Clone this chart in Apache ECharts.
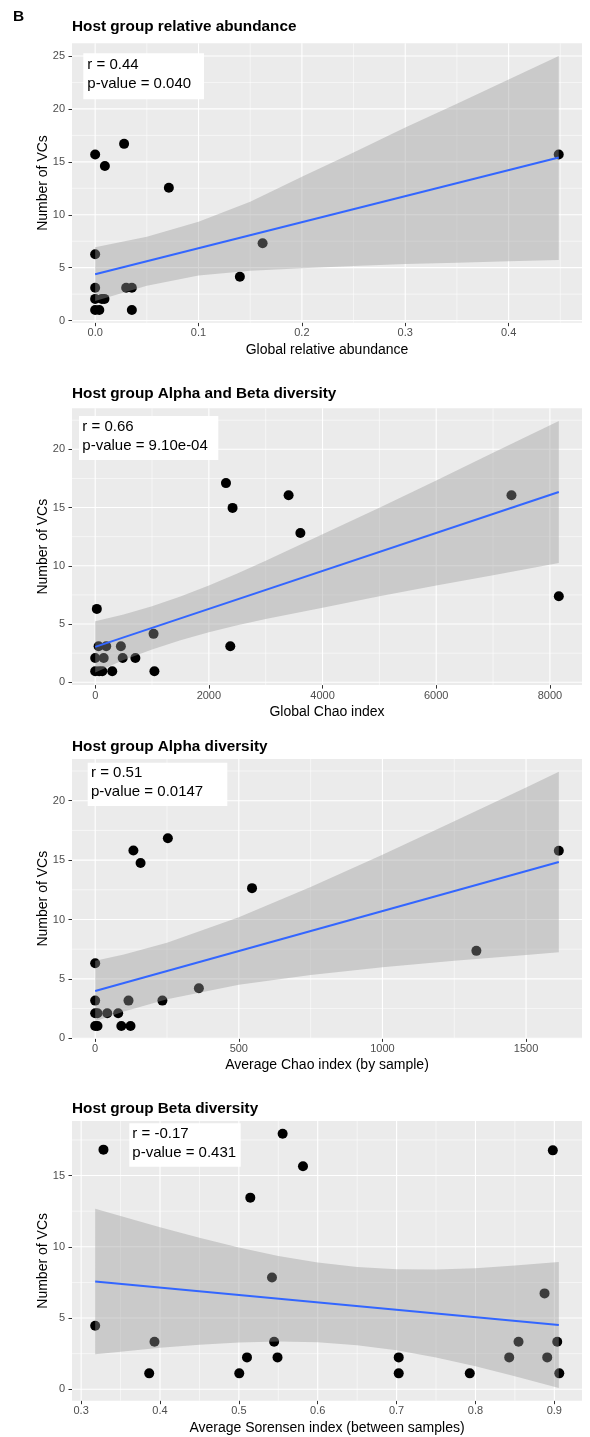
<!DOCTYPE html>
<html>
<head>
<meta charset="utf-8">
<script src="https://cdn.jsdelivr.net/npm/echarts@6/dist/echarts.min.js"></script>
<style>
html, body { margin: 0; padding: 0; background: #fff; }
#main { width: 590px; height: 1437px; }
</style>
</head>
<body>
<div id="main"></div>
<script>
// panel 1 - relative abundance
var p1X = [0, 0.028, 0.0094, 0.0713, 0, 0.162, 0.140, 0, 0.030, 0.0355, 0, 0.0065, 0.009, 0, 0.004, 0.0355, 0.4485];
var p1Y = [15.7, 16.7, 14.6, 12.55, 6.26, 7.3, 4.15, 3.1, 3.1, 3.1, 2.05, 2.05, 2.05, 1.0, 1.0, 1.0, 15.7];
var p1FitX = [0, 0.4485];
var p1FitY = [4.38, 15.41];
var p1BandX = [0, 0.05, 0.1, 0.15, 0.2, 0.25, 0.3, 0.35, 0.4, 0.4485];
var p1BandHi = [6.92, 7.92, 9.34, 11.23, 13.58, 15.89, 18.24, 20.49, 22.79, 25.0];
var p1BandLo = [1.85, 3.3, 4.25, 4.7, 4.95, 5.15, 5.35, 5.47, 5.6, 5.73];
var p1XTicks = [0, 0.1, 0.2, 0.3, 0.4];
var p1XMinor = [0.05, 0.15, 0.25, 0.35, 0.45];
var p1YTicks = [0, 5, 10, 15, 20, 25];
var p1YMinor = [2.5, 7.5, 12.5, 17.5, 22.5];

// panel 2 - global chao
var p2X = [2301, 2417, 3403, 3610, 29, 7324, 8157, 1027, 2377, 60, 194, 452, 0, 150, 484, 707, 0, 70, 125, 300, 1042];
var p2Y = [17.1, 14.97, 16.05, 12.81, 6.3, 16.05, 7.38, 4.16, 3.09, 3.09, 3.09, 3.09, 2.08, 2.08, 2.08, 2.08, 0.95, 0.95, 0.95, 0.95, 0.95];
var p2FitX = [0, 8157];
var p2FitY = [3.04, 16.34];
var p2BandX = [0, 500, 1000, 1500, 2000, 2500, 3000, 4000, 5000, 6000, 7000, 8157];
var p2BandHi = [5.24, 5.81, 6.52, 7.37, 8.30, 9.34, 10.43, 12.71, 14.99, 17.32, 19.70, 22.44];
var p2BandLo = [0.84, 1.91, 2.82, 3.61, 4.30, 4.90, 5.43, 6.41, 7.39, 8.32, 9.20, 10.24];
var p2XTicks = [0, 2000, 4000, 6000, 8000];
var p2XMinor = [1000, 3000, 5000, 7000];
var p2YTicks = [0, 5, 10, 15, 20];
var p2YMinor = [2.5, 7.5, 12.5, 17.5, 22.5];

// panel 3 - average chao by sample
var p3X = [253, 133, 158, 546, 0, 361, 0, 116, 234, 0, 8, 42, 80, 0, 8, 91, 123, 1614, 1327];
var p3Y = [16.84, 15.8, 14.75, 12.64, 6.31, 4.21, 3.17, 3.17, 3.17, 2.1, 2.1, 2.1, 2.1, 1.04, 1.04, 1.04, 1.04, 15.79, 7.36];
var p3FitX = [0, 1614];
var p3FitY = [3.98, 14.84];
var p3BandX = [0, 100, 250, 500, 750, 1000, 1250, 1500, 1614];
var p3BandHi = [6.53, 7.05, 8.04, 10.19, 12.73, 15.45, 18.26, 21.12, 22.44];
var p3BandLo = [1.43, 2.25, 3.28, 4.51, 5.33, 5.97, 6.52, 7.02, 7.24];
var p3XTicks = [0, 500, 1000, 1500];
var p3XMinor = [250, 750, 1250];
var p3YTicks = [0, 5, 10, 15, 20];
var p3YMinor = [2.5, 7.5, 12.5, 17.5, 22.5];

// panel 4 - sorensen
var p4X = [0.3283, 0.5555, 0.5145, 0.542, 0.3178, 0.393, 0.3863, 0.5103, 0.5005, 0.5447, 0.549, 0.5813, 0.8981, 0.8876, 0.8546, 0.9037, 0.7027, 0.8428, 0.891, 0.7027, 0.7928, 0.9063];
var p4Y = [16.82, 17.94, 13.45, 7.85, 4.46, 3.34, 1.12, 2.24, 1.12, 3.34, 2.24, 15.65, 16.77, 6.73, 3.34, 3.34, 2.24, 2.24, 2.24, 1.12, 1.12, 1.12];
var p4FitX = [0.3178, 0.9057];
var p4FitY = [7.57, 4.51];
var p4BandX = [0.3178, 0.35, 0.4, 0.45, 0.5, 0.55, 0.6, 0.65, 0.7, 0.75, 0.8, 0.85, 0.9057];
var p4BandHi = [12.68, 12.16, 11.37, 10.63, 9.95, 9.36, 8.90, 8.58, 8.42, 8.40, 8.50, 8.68, 8.93];
var p4BandLo = [2.46, 2.64, 2.91, 3.13, 3.29, 3.36, 3.30, 3.10, 2.74, 2.24, 1.62, 0.92, 0.09];
var p4XTicks = [0.3, 0.4, 0.5, 0.6, 0.7, 0.8, 0.9];
var p4XMinor = [0.35, 0.45, 0.55, 0.65, 0.75, 0.85];
var p4YTicks = [0, 5, 10, 15];
var p4YMinor = [2.5, 7.5, 12.5, 17.5];

var FONT = '"Liberation Sans", Arial, Helvetica, sans-serif';

var panels = [
    { x: p1X, y: p1Y, fx: p1FitX, fy: p1FitY, bx: p1BandX, bh: p1BandHi, bl: p1BandLo,
      xt: p1XTicks, xm: p1XMinor, yt: p1YTicks, ym: p1YMinor,
      xMin: -0.0224, xMax: 0.471, yMin: -0.2, yMax: 26.2, top: 43.3, height: 279.4, dec: 1,
      xName: 'Global relative abundance', title: 'Host group relative abundance', titleY: 26.7,
      note: ['r = 0.44', 'p-value = 0.040'], box: [83.3, 53.3, 120.7, 46], tx: 87.3, ty: [65, 84] },
    { x: p2X, y: p2Y, fx: p2FitX, fy: p2FitY, bx: p2BandX, bh: p2BandHi, bl: p2BandLo,
      xt: p2XTicks, xm: p2XMinor, yt: p2YTicks, ym: p2YMinor,
      xMin: -408, xMax: 8565, yMin: -0.24, yMax: 23.52, top: 408.3, height: 276.8, dec: 0,
      xName: 'Global Chao index', title: 'Host group Alpha and Beta diversity', titleY: 393.3,
      note: ['r = 0.66', 'p-value = 9.10e-04'], box: [79, 416, 139.3, 44], tx: 82.3, ty: [426.7, 446] },
    { x: p3X, y: p3Y, fx: p3FitX, fy: p3FitY, bx: p3BandX, bh: p3BandHi, bl: p3BandLo,
      xt: p3XTicks, xm: p3XMinor, yt: p3YTicks, ym: p3YMinor,
      xMin: -80.7, xMax: 1694.7, yMin: -0.01, yMax: 23.51, top: 759, height: 279.4, dec: 0,
      xName: 'Average Chao index (by sample)', title: 'Host group Alpha diversity', titleY: 746.7,
      note: ['r = 0.51', 'p-value = 0.0147'], box: [87.7, 762.7, 139.6, 43.3], tx: 91, ty: [773.3, 792.3] },
    { x: p4X, y: p4Y, fx: p4FitX, fy: p4FitY, bx: p4BandX, bh: p4BandHi, bl: p4BandLo,
      xt: p4XTicks, xm: p4XMinor, yt: p4YTicks, ym: p4YMinor,
      xMin: 0.2884, xMax: 0.9351, yMin: -0.8, yMax: 18.83, top: 1121, height: 279.7, dec: 1,
      xName: 'Average Sorensen index (between samples)', title: 'Host group Beta diversity', titleY: 1108.3,
      note: ['r = -0.17', 'p-value = 0.431'], box: [129.3, 1123.3, 111.4, 43.4], tx: 132.3, ty: [1134.3, 1152.7] }
];

var option = {
    animation: false,
    backgroundColor: '#fff',
    grid: [], xAxis: [], yAxis: [], series: [],
    graphic: [{
        type: 'text', left: 13, top: 9, z: 100,
        style: { text: 'B', fontSize: 15.5, fontWeight: 'bold', fontFamily: FONT, fill: '#000' }
    }]
};

$each(panels, function (i, p) {
    option.grid.push({
        left: 72, width: 510, top: p.top, height: p.height,
        show: true, backgroundColor: '#EBEBEB', borderWidth: 0
    });
    option.xAxis.push({
        gridIndex: i, type: 'value', min: p.xMin, max: p.xMax,
        name: p.xName, nameLocation: 'middle', nameGap: 20, nameMoveOverlap: false,
        nameTextStyle: { fontSize: 14, color: '#000', fontFamily: FONT },
        axisLine: { show: false, onZero: false },
        axisTick: { show: true, length: 3.5, lineStyle: { color: '#333', width: 1 }, customValues: p.xt },
        axisLabel: {
            customValues: p.xt, color: '#4D4D4D', fontSize: 11, margin: 5, fontFamily: FONT,
            formatter: function (v) { return p.dec ? v.toFixed(p.dec) : String(v); }
        },
        splitLine: { show: false }
    });
    option.yAxis.push({
        gridIndex: i, type: 'value', min: p.yMin, max: p.yMax,
        name: 'Number of VCs', nameLocation: 'middle', nameGap: 22, nameMoveOverlap: false,
        nameTextStyle: { fontSize: 14, color: '#000', fontFamily: FONT },
        axisLine: { show: false, onZero: false },
        axisTick: { show: true, length: 3.5, lineStyle: { color: '#333', width: 1 }, customValues: p.yt },
        axisLabel: { customValues: p.yt, color: '#4D4D4D', fontSize: 11, margin: 7, fontFamily: FONT },
        splitLine: { show: false }
    });

    // white grid lines, major and minor
    var lines = [];
    p.xm.forEach(function (v) { lines.push([v, 0, 0]); });
    p.ym.forEach(function (v) { lines.push([v, 1, 0]); });
    p.xt.forEach(function (v) { lines.push([v, 0, 1]); });
    p.yt.forEach(function (v) { lines.push([v, 1, 1]); });
    option.series.push({
        type: 'custom', xAxisIndex: i, yAxisIndex: i, silent: true, z: 1,
        data: lines,
        encode: { x: 0 },
        renderItem: function (params, api) {
            var v = api.value(0), horiz = api.value(1), major = api.value(2);
            var a, b;
            if (horiz) {
                a = api.coord([p.xMin, v]); b = api.coord([p.xMax, v]);
            } else {
                a = api.coord([v, p.yMin]); b = api.coord([v, p.yMax]);
            }
            return {
                type: 'line',
                shape: { x1: a[0], y1: a[1], x2: b[0], y2: b[1] },
                style: { stroke: '#fff', lineWidth: major ? 1.1 : 0.55 }
            };
        }
    });

    // points
    option.series.push({
        type: 'scatter', xAxisIndex: i, yAxisIndex: i, z: 2,
        symbolSize: 10, itemStyle: { color: '#000', opacity: 1 },
        data: p.x.map(function (x, k) { return [x, p.y[k]]; })
    });

    // confidence band
    option.series.push({
        type: 'custom', xAxisIndex: i, yAxisIndex: i, silent: true, z: 3,
        data: [[p.bx[0], p.bl[0]]],
        renderItem: function (params, api) {
            var pts = [];
            for (var k = 0; k < p.bx.length; k++) pts.push(api.coord([p.bx[k], p.bh[k]]));
            for (var k2 = p.bx.length - 1; k2 >= 0; k2--) pts.push(api.coord([p.bx[k2], p.bl[k2]]));
            return { type: 'polygon', shape: { points: pts }, style: { fill: 'rgba(153,153,153,0.4)' } };
        }
    });

    // fitted line
    option.series.push({
        type: 'line', xAxisIndex: i, yAxisIndex: i, z: 4,
        symbol: 'none', lineStyle: { color: '#3366FF', width: 2 },
        data: p.fx.map(function (x, k) { return [x, p.fy[k]]; })
    });

    // title and r / p label
    option.graphic.push({
        type: 'text', x: 72, y: p.titleY, z: 100,
        style: { text: p.title, fontSize: 15.3, fontWeight: 'bold', fontFamily: FONT, fill: '#000', verticalAlign: 'middle' }
    });
    option.graphic.push({
        type: 'rect', z: 100,
        shape: { x: p.box[0], y: p.box[1], width: p.box[2], height: p.box[3] },
        style: { fill: '#fff' }
    });
    p.note.forEach(function (t, k) {
        option.graphic.push({
            type: 'text', x: p.tx, y: p.ty[k], z: 101,
            style: { text: t, fontSize: 15, fontFamily: FONT, fill: '#000', verticalAlign: 'middle' }
        });
    });
});

function $each(arr, fn) {
    for (var i = 0; i < arr.length; i++) fn(i, arr[i]);
}

var myChart = echarts.init(document.getElementById('main'), null, { renderer: 'canvas' });
myChart.setOption(option);
</script>
</body>
</html>
